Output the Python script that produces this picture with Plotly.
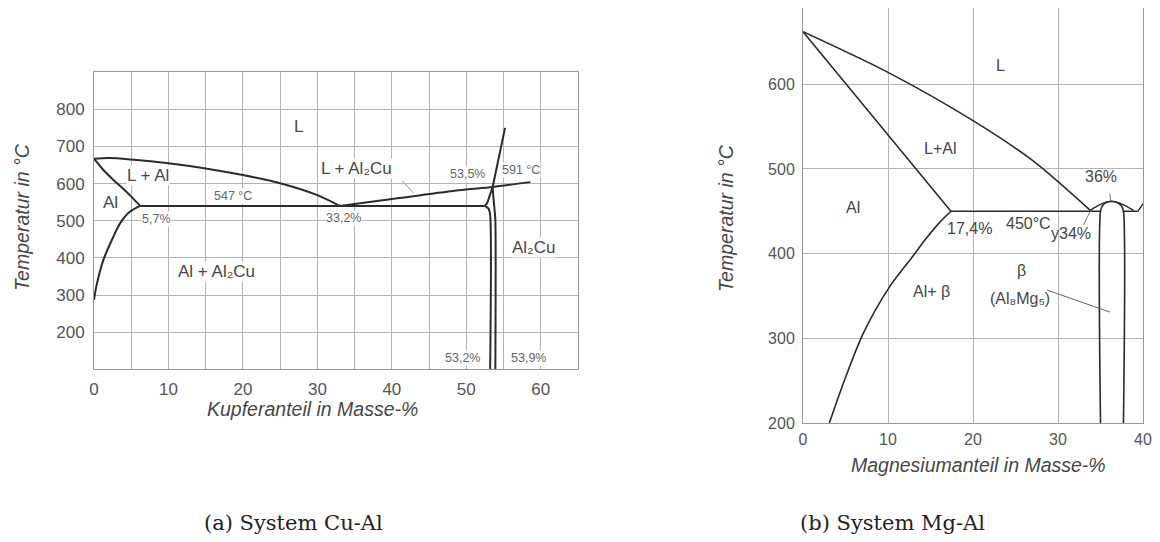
import plotly.graph_objects as go

# ---------------- Data: (a) System Cu-Al ----------------
cu_liquidus_al_x = [0, 2, 5, 10, 15, 20, 25, 30, 33.0]
cu_liquidus_al_T = [667, 669, 665, 655, 641, 623, 601, 569, 540]
cu_solidus_x = [0, 1.2, 2.6, 4.0, 4.8, 6.2]
cu_solidus_T = [667, 638, 610, 585, 569, 540]
cu_solvus_x = [6.2, 4.8, 3.5, 2.6, 1.25, 0.3, 0.0]
cu_solvus_T = [540, 524, 493, 457, 394, 322, 287]
cu_eutectic_x = [6.2, 52.46]
cu_eutectic_T = [540, 540]
cu_liquidus_cu_x = [33.0, 41, 49, 53.54, 58.6]
cu_liquidus_cu_T = [540, 561, 582, 591, 604]
cu_steep_x = [55.2, 53.54]
cu_steep_T = [750, 591]
cu_branch_x = [53.54, 53.1, 52.78, 52.46]
cu_branch_T = [591, 565, 547, 540]
cu_al2cu_left_x = [52.46, 53.0, 53.2, 53.2]
cu_al2cu_left_T = [540, 532, 515, 100]
cu_al2cu_right_x = [53.54, 53.67, 53.8, 53.9, 53.9]
cu_al2cu_right_T = [591, 556, 529, 502, 100]
cu_leader_x = [41.4, 42.9]
cu_leader_T = [607, 575]

cu_xticks = [0, 10, 20, 30, 40, 50, 60]
cu_yticks = [200, 300, 400, 500, 600, 700, 800]

# ---------------- Data: (b) System Mg-Al ----------------
mg_liquidus_x = [0, 10, 20, 27, 33.8]
mg_liquidus_T = [662, 614, 557, 510, 451]
mg_solidus_x = [0, 17.4]
mg_solidus_T = [662, 450]
mg_eutectic_x = [17.4, 35.0]
mg_eutectic_T = [450, 450]
mg_solvus_x = [17.4, 16.0, 14.5, 12.7, 10.2, 7.1, 4.9, 3.1]
mg_solvus_T = [450, 436, 418, 394, 361, 306, 251, 200]
mg_beta_x = [35.0, 35.0, 35.2, 35.6, 36.3, 37.0, 37.5, 37.7, 37.7]
mg_beta_T = [200, 450, 456, 460, 461.5, 460, 456, 450, 200]
mg_dome_x = [33.8, 34.6, 35.4, 36.3, 37.2, 38.2, 38.9]
mg_dome_T = [451, 456, 460, 462, 460, 455, 451]
mg_right_x = [37.7, 39.4, 40.0]
mg_right_T = [450, 450, 459]
mg_lead36_x = [36.1, 36.2]
mg_lead36_T = [471, 462]
mg_lead34_x = [33.0, 33.8]
mg_lead34_T = [434, 450]
mg_leadbeta_x = [28.7, 36.1]
mg_leadbeta_T = [357, 331]

mg_xticks = [0, 10, 20, 30, 40]
mg_yticks = [200, 300, 400, 500, 600]

LINE = "#2b2b2b"
GRID = "#b4b4b4"
TXT = "#474747"
FONT = "Liberation Sans, DejaVu Sans, Arial, sans-serif"

fig = go.Figure()

def add_line(x, y, xa, ya, width=2.0, color=LINE, smooth=True):
    fig.add_trace(go.Scatter(x=x, y=y, xaxis=xa, yaxis=ya, mode="lines",
                             line=dict(color=color, width=width,
                                       shape="spline" if smooth else "linear",
                                       smoothing=0.8),
                             hoverinfo="skip", showlegend=False))

# Cu-Al curves
add_line(cu_liquidus_al_x, cu_liquidus_al_T, "x", "y")
add_line(cu_solidus_x, cu_solidus_T, "x", "y")
add_line(cu_solvus_x, cu_solvus_T, "x", "y")
add_line(cu_eutectic_x, cu_eutectic_T, "x", "y", smooth=False)
add_line(cu_liquidus_cu_x, cu_liquidus_cu_T, "x", "y")
add_line(cu_steep_x, cu_steep_T, "x", "y", smooth=False)
add_line(cu_branch_x, cu_branch_T, "x", "y")
add_line(cu_al2cu_left_x, cu_al2cu_left_T, "x", "y")
add_line(cu_al2cu_right_x, cu_al2cu_right_T, "x", "y")
add_line(cu_leader_x, cu_leader_T, "x", "y", width=1, color="#9a9a9a", smooth=False)

# Mg-Al curves
add_line(mg_liquidus_x, mg_liquidus_T, "x2", "y2", width=1.6)
add_line(mg_solidus_x, mg_solidus_T, "x2", "y2", width=1.6, smooth=False)
add_line(mg_eutectic_x, mg_eutectic_T, "x2", "y2", width=1.6, smooth=False)
add_line(mg_solvus_x, mg_solvus_T, "x2", "y2", width=1.6)
add_line(mg_beta_x, mg_beta_T, "x2", "y2", width=1.6)
add_line(mg_dome_x, mg_dome_T, "x2", "y2", width=1.4)
add_line(mg_right_x, mg_right_T, "x2", "y2", width=1.4, smooth=False)
add_line(mg_lead36_x, mg_lead36_T, "x2", "y2", width=1, color="#777", smooth=False)
add_line(mg_lead34_x, mg_lead34_T, "x2", "y2", width=1, color="#777", smooth=False)
add_line(mg_leadbeta_x, mg_leadbeta_T, "x2", "y2", width=1, color="#666", smooth=False)

ann = []
def label(text, x, y, xr, yr, size, color=TXT, bg=None):
    d = dict(text=text, x=x, y=y, xref=xr, yref=yr, showarrow=False,
             xanchor="center", yanchor="middle",
             font=dict(family=FONT, size=size, color=color))
    if bg:
        d["bgcolor"] = bg
        d["borderpad"] = 0
    ann.append(d)

# Cu-Al labels
label("L", 27.4, 753, "x", "y", 17, bg="white")
label("L + Al", 7.2, 623, "x", "y", 17, bg="white")
label("Al", 2.2, 549, "x", "y", 17)
label("L + Al₂Cu", 35.3, 641, "x", "y", 17, bg="white")
label("Al + Al₂Cu", 16.5, 363, "x", "y", 17, bg="white")
label("Al₂Cu", 59.0, 427, "x", "y", 17, bg="white")
label("547 °C", 18.7, 566, "x", "y", 12.5, color="#666", bg="white")
label("5,7%", 8.4, 505, "x", "y", 12.5, color="#666", bg="white")
label("33,2%", 33.5, 507, "x", "y", 12.5, color="#666", bg="white")
label("53,5%", 50.1, 626, "x", "y", 12.5, color="#666", bg="white")
label("591 °C", 57.3, 638, "x", "y", 12.5, color="#666", bg="white")
label("53,2%", 49.5, 130, "x", "y", 12.5, color="#666", bg="white")
label("53,9%", 58.3, 130, "x", "y", 12.5, color="#666", bg="white")

# Mg-Al labels
label("L", 23.2, 622, "x2", "y2", 16)
label("L+Al", 16.1, 524, "x2", "y2", 16)
label("Al", 5.9, 455, "x2", "y2", 16)
label("17,4%", 19.6, 430, "x2", "y2", 16)
label("450°C", 26.5, 435, "x2", "y2", 16)
label("y34%", 31.5, 424, "x2", "y2", 16)
label("36%", 35.0, 491, "x2", "y2", 16)
label("β", 25.7, 380, "x2", "y2", 16)
label("(Al₈Mg₅)", 25.5, 347, "x2", "y2", 16)
label("Al+ β", 15.1, 355, "x2", "y2", 16)

# Axis titles and captions
W, H = 1160, 542
def ptext(text, px, py, size, angle=0, italic=True, family=FONT, color=TXT):
    ann.append(dict(text=text, x=px / W, y=1 - py / H, xref="paper", yref="paper",
                    xanchor="center", yanchor="middle",
                    showarrow=False, textangle=angle,
                    font=dict(family=family, size=size, color=color,
                              style="italic" if italic else "normal")))

ptext("Temperatur in °C", 22, 217, 19.5, angle=-90)
ptext("Kupferanteil in Masse-%", 312, 409, 19.5)
ptext("Temperatur in °C", 726, 218, 19.5, angle=-90)
ptext("Magnesiumanteil in Masse-%", 978, 465, 19.5)
ptext("(a) System Cu-Al", 293, 523, 21, italic=False,
      family="DejaVu Serif, Liberation Serif, serif", color="#222")
ptext("(b) System Mg-Al", 892, 523, 21, italic=False,
      family="DejaVu Serif, Liberation Serif, serif", color="#222")

tickfont = dict(family=FONT, size=17, color="#555")
tickfont2 = dict(family=FONT, size=16, color="#555")

common = dict(showgrid=True, gridcolor=GRID, gridwidth=1, zeroline=False,
              showline=True, linecolor="#999", linewidth=1, ticks="",
              automargin=False)

fig.update_layout(
    width=W, height=H, margin=dict(l=0, r=0, t=0, b=0, pad=0, autoexpand=False),
    paper_bgcolor="white", plot_bgcolor="white", showlegend=False,
    annotations=ann,
    xaxis=dict(domain=[94 / W, 578 / W], range=[0, 65], tickvals=cu_xticks,
               minor=dict(dtick=5, tick0=0, showgrid=True, gridcolor=GRID,
                          gridwidth=1, ticks=""),
               mirror=True, ticklabelstandoff=4,
               tickfont=tickfont, anchor="y", **common),
    yaxis=dict(domain=[1 - 369.3 / H, 1 - 72.2 / H], range=[100, 900],
               tickvals=cu_yticks, mirror=True,
               ticklabelstandoff=5, tickfont=tickfont, anchor="x", **common),
    xaxis2=dict(domain=[803 / W, 1143 / W], range=[0, 40], tickvals=mg_xticks,
                ticklabelstandoff=2, tickfont=tickfont2, anchor="y2", **common),
    yaxis2=dict(domain=[1 - 423 / H, 1 - 8 / H], range=[200, 690],
                tickvals=mg_yticks, mirror=True, ticklabelstandoff=4,
                tickfont=tickfont2, anchor="x2", **common),
)

fig.write_html("out.html", config={"displayModeBar": False},
               post_script="document.body.style.margin='0';document.body.style.overflow='hidden';")
